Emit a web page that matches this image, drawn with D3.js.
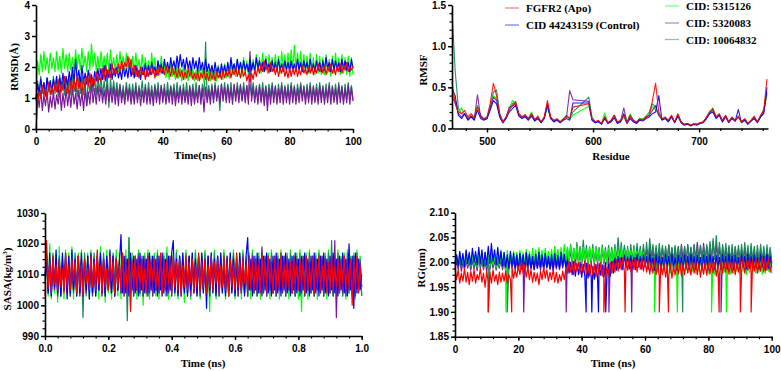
<!DOCTYPE html>
<html><head><meta charset="utf-8">
<script src="https://cdn.jsdelivr.net/npm/d3@7"></script>
<style>body{margin:0;background:#fff}</style>
</head><body><svg id="c" width="781" height="371"></svg>
<script>
// ---------- series ----------
const seriesNames = ["FGFR2 (Apo)","CID 44243159 (Control)","CID: 5315126","CID: 5320083","CID: 10064832"];
const seriesColors = ["#ff0000","#0000ff","#00ff00","#7a1a9a","#168a5a"];

// ---------- RMSD (Å) vs time 0-100 ns, sampled every 0.5 ns ----------
const rmsdApo = [0.0,
0.9,1.2,1.0,1.4,1.1,1.3,0.95,1.5,1.1,1.35,
1.15,1.5,1.2,1.6,1.05,1.45,1.25,1.7,1.2,1.4,
1.1,1.55,1.3,1.6,1.2,1.75,1.3,1.5,1.15,1.6,
1.35,1.7,1.4,1.8,1.3,1.65,1.45,1.85,1.5,1.7,
1.55,1.95,1.6,2.05,1.7,1.9,1.65,2.1,1.75,1.95,
1.8,2.1,1.85,2.2,1.9,2.15,2.0,2.35,1.95,2.25,
1.75,2.05,1.7,1.95,1.65,2.0,1.75,1.9,1.6,1.95,
1.7,1.95,1.75,2.0,1.65,1.9,1.72,2.05,1.8,1.95,
1.75,2.05,1.8,1.95,1.7,2.0,1.75,1.9,1.65,1.95,
1.7,1.9,1.6,1.85,1.65,1.95,1.7,1.85,1.6,1.8,
1.6,1.85,1.55,1.8,1.65,1.9,1.6,1.8,1.55,1.85,
1.6,1.8,1.55,1.85,1.65,1.8,1.6,1.9,1.65,1.85,
1.7,1.95,1.65,1.9,1.75,2.0,1.7,1.9,1.65,1.95,
1.7,1.85,1.55,1.75,1.5,1.8,1.6,1.9,1.7,2.0,
1.8,2.1,1.85,2.2,1.9,2.05,1.8,2.15,1.85,2.0,
1.75,2.0,1.7,1.95,1.8,2.05,1.7,1.9,1.65,1.95,
1.7,1.95,1.75,2.0,1.7,1.9,1.75,2.05,1.8,1.95,
1.75,2.0,1.8,2.05,1.75,1.95,1.8,2.1,1.85,2.0,
1.8,2.05,1.75,2.0,1.85,2.1,1.8,1.95,1.75,2.05,
1.85,2.1,1.8,2.05,1.9,2.15,1.85,2.0,1.9,2.05];
const rmsdControl = [1.0,
1.45,1.15,1.6,1.25,1.5,1.1,1.65,1.3,1.55,1.2,
1.6,1.3,1.7,1.2,1.65,1.35,1.8,1.3,1.7,1.4,
1.85,1.45,2.0,1.5,2.25,1.55,1.9,1.45,2.05,1.5,
1.8,1.45,1.9,1.5,1.75,1.4,1.85,1.55,1.95,1.6,
1.95,1.6,2.05,1.55,1.9,1.65,2.1,1.6,1.95,1.7,
2.0,1.65,1.9,1.6,2.05,1.7,1.95,1.65,2.1,1.7,
1.95,1.65,2.05,1.7,1.9,1.6,2.0,1.75,2.1,1.7,
2.05,1.75,2.15,1.8,2.0,1.75,2.2,1.85,2.1,1.8,
2.25,1.9,2.15,1.85,2.3,1.95,2.2,1.9,2.35,1.95,
2.4,2.0,2.25,1.9,2.3,1.95,2.2,1.85,2.3,1.95,
2.2,1.85,2.3,1.9,2.15,1.8,2.25,1.85,2.1,1.8,
2.05,1.75,2.15,1.8,2.0,1.7,2.1,1.8,2.05,1.75,
2.15,1.8,2.3,1.9,2.1,1.85,2.25,1.9,2.15,1.85,
2.2,1.9,2.1,1.85,2.25,1.9,2.15,1.85,2.3,1.95,
2.2,1.9,2.15,1.85,2.25,1.95,2.1,1.85,2.2,1.9,
2.15,1.85,2.25,1.9,2.1,1.85,2.2,1.9,2.15,1.85,
2.2,1.9,2.1,1.85,2.25,1.9,2.15,1.85,2.2,1.95,
2.15,1.85,2.25,1.9,2.1,1.85,2.2,1.9,2.15,1.85,
2.2,1.9,2.3,1.95,2.15,1.85,2.25,1.9,2.2,1.9,
2.15,1.85,2.25,1.95,2.2,1.9,2.15,1.85,2.25,1.95];
const rmsd5315126 = [1.2,
2.2,1.75,2.4,1.85,2.5,1.9,2.3,1.8,2.45,1.95,
2.3,1.85,2.5,1.9,2.35,1.8,2.6,1.95,2.4,1.85,
2.45,1.9,2.3,1.85,2.55,1.95,2.4,1.9,2.6,2.0,
2.35,1.85,2.5,1.9,2.75,2.0,2.45,1.9,2.35,1.85,
2.5,1.95,2.35,1.9,2.45,1.85,2.55,1.95,2.3,1.9,
2.4,1.85,2.5,1.95,2.35,1.9,2.45,1.95,2.3,1.85,
2.35,1.8,2.45,1.9,2.25,1.8,2.4,1.85,2.3,1.8,
2.2,1.75,2.45,1.85,2.3,1.7,2.2,1.75,2.35,1.8,
2.1,1.65,2.0,1.6,2.15,1.7,1.95,1.6,2.05,1.65,
1.95,1.55,2.05,1.6,1.9,1.55,2.0,1.65,1.95,1.55,
1.9,1.55,2.0,1.6,1.95,1.5,2.05,1.6,1.9,1.55,
2.0,1.6,1.95,1.55,2.05,1.65,1.95,1.6,2.1,1.65,
2.05,1.65,2.2,1.75,2.1,1.7,2.25,1.75,2.15,1.7,
2.3,1.8,2.2,1.75,2.35,1.85,2.25,1.8,2.4,1.85,
2.3,1.8,2.45,1.85,2.35,1.8,2.4,1.9,2.3,1.85,
2.4,1.85,2.35,1.8,2.5,1.9,2.4,1.85,2.45,1.9,
2.55,1.9,2.7,1.95,2.45,1.9,2.5,1.85,2.4,1.8,
2.35,1.8,2.45,1.85,2.3,1.75,2.4,1.8,2.35,1.75,
2.3,1.75,2.4,1.8,2.25,1.7,2.35,1.8,2.45,1.85,
2.3,1.75,2.4,1.8,2.3,1.75,2.35,1.7,2.3,1.75];
const rmsd5320083 = [0.9,
1.15,0.7,1.25,0.6,1.1,0.75,1.2,0.55,1.05,0.7,
1.2,0.65,1.1,0.8,1.25,0.6,1.15,0.7,1.3,0.75,
1.2,0.7,1.35,0.8,1.15,0.65,1.25,0.75,1.2,0.6,
1.3,0.75,1.2,0.8,1.45,0.85,1.3,0.8,1.4,0.9,
1.35,0.85,1.25,0.8,1.4,0.9,1.3,0.85,1.35,0.8,
1.3,0.75,1.4,0.85,1.25,0.8,1.35,0.9,1.3,0.8,
1.25,0.8,1.35,0.85,1.3,0.75,1.25,0.85,1.35,0.8,
1.3,0.8,1.25,0.75,1.35,0.85,1.3,0.8,1.4,0.85,
1.3,0.8,1.25,0.85,1.35,0.8,1.3,0.75,1.25,0.85,
1.35,0.8,1.3,0.85,1.25,0.8,1.35,0.75,1.3,0.8,
1.25,0.85,1.4,0.8,1.3,0.55,1.35,0.85,1.25,0.8,
1.35,0.85,1.4,0.9,1.3,0.85,1.45,0.9,1.35,0.85,
1.4,0.85,1.3,0.8,1.45,0.9,1.35,0.85,1.4,0.9,
1.35,0.85,1.4,0.8,2.5,0.9,1.35,0.85,1.3,0.8,
1.4,0.85,1.3,0.75,1.35,0.6,1.3,0.8,1.4,0.85,
1.35,0.8,1.3,0.85,1.4,0.8,1.35,0.85,1.3,0.8,
1.4,0.85,1.35,0.8,1.3,0.85,1.4,0.9,1.35,0.8,
1.3,0.85,1.4,0.8,1.35,0.85,1.3,0.8,1.4,0.85,
1.35,0.8,1.3,0.85,1.4,0.8,1.35,0.85,1.3,0.8,
1.4,0.85,1.35,0.8,1.3,0.85,1.4,0.8,1.35,0.9];
const rmsd10064832 = [1.0,
1.55,1.1,1.7,1.15,1.5,1.05,1.65,1.2,1.55,1.1,
1.7,1.15,1.6,1.05,1.75,1.2,1.55,1.1,1.65,1.15,
1.6,1.1,1.75,1.2,1.5,1.05,1.65,1.15,1.7,1.1,
1.55,0.75,1.65,1.15,1.75,1.2,1.6,1.1,1.7,1.2,
1.65,1.1,1.55,1.05,1.7,0.7,1.6,1.1,1.55,1.05,
1.5,1.05,1.45,1.0,1.4,0.95,1.5,1.05,1.45,1.0,
1.45,1.0,1.5,0.95,1.4,1.05,1.55,1.0,1.45,0.95,
1.5,1.0,1.4,0.95,1.45,1.05,1.5,0.95,1.4,1.0,
1.45,0.95,1.5,1.0,1.4,1.05,1.45,0.95,1.5,1.0,
1.4,0.95,1.45,1.0,1.5,0.95,1.4,1.05,1.45,0.95,
1.5,1.0,1.4,0.95,1.45,1.05,2.8,0.95,1.4,1.0,
1.45,0.95,1.5,1.0,1.4,0.6,1.45,1.0,1.5,0.95,
1.45,1.0,1.5,0.95,1.4,1.0,1.5,1.05,1.45,0.95,
1.5,1.0,1.4,0.95,1.45,1.05,1.5,1.0,1.4,0.95,
1.45,0.95,1.5,1.0,1.4,0.95,1.45,1.05,1.5,1.0,
1.4,0.95,1.45,1.0,1.5,0.95,1.4,1.0,1.45,0.95,
1.5,1.0,1.4,0.95,1.45,1.05,1.5,1.0,1.4,0.95,
1.45,1.0,1.5,0.95,1.4,1.0,1.45,0.95,1.5,1.0,
1.4,0.95,1.45,1.0,1.5,0.95,1.4,1.0,1.45,0.95,
1.5,1.0,1.4,0.9,1.45,0.95,1.5,1.0,1.4,0.95];

// ---------- RMSF vs residue (467..764 every 3; null = residues missing, joined straight) ----------
const rmsfResidueStart = 467, rmsfResidueStep = 3;
const rmsfApo = [0.57,0.30,0.20,0.18,0.22,0.14,0.18,0.13,0.26,0.16,
0.12,0.14,0.30,0.55,0.40,0.18,0.08,0.14,0.22,0.28,
0.32,0.18,0.14,0.17,0.12,0.18,0.11,0.15,0.08,0.14,
0.34,0.14,0.10,0.12,0.08,0.11,0.16,0.12,0.26,null,
null,null,null,0.30,0.12,0.08,0.10,0.06,0.14,0.07,
0.10,0.16,0.08,0.10,0.16,0.07,0.16,0.10,0.08,0.12,
0.10,0.14,0.16,0.34,0.55,0.20,0.12,0.14,0.10,0.16,
0.08,0.18,0.08,0.05,0.06,0.04,0.06,0.05,0.07,0.08,
0.14,0.20,0.24,0.14,0.18,0.10,0.16,0.08,0.14,0.10,
0.15,0.08,0.12,0.06,0.10,0.15,0.08,0.16,0.22,0.60];
const rmsfControl = [0.47,0.40,0.16,0.12,0.18,0.10,0.14,0.10,0.22,0.12,
0.10,0.12,0.22,0.34,0.30,0.14,0.07,0.12,0.20,0.24,
0.28,0.15,0.12,0.14,0.10,0.15,0.09,0.12,0.07,0.12,
0.28,0.12,0.08,0.10,0.07,0.10,0.12,0.10,0.31,null,
null,null,null,0.31,0.10,0.07,0.08,0.05,0.12,0.06,
0.08,0.13,0.06,0.08,0.18,0.06,0.12,0.08,0.06,0.10,
0.09,0.12,0.14,0.18,0.20,0.40,0.10,0.12,0.08,0.14,
0.07,0.15,0.07,0.04,0.05,0.03,0.05,0.04,0.06,0.07,
0.12,0.18,0.20,0.12,0.16,0.08,0.14,0.07,0.12,0.09,
0.23,0.07,0.10,0.05,0.09,0.12,0.07,0.14,0.18,0.50];
const rmsf5315126 = [0.41,0.35,0.20,0.25,0.16,0.13,0.16,0.12,0.27,0.15,
0.11,0.13,0.28,0.40,0.36,0.16,0.08,0.13,0.24,0.34,
0.30,0.17,0.13,0.16,0.12,0.20,0.10,0.14,0.08,0.13,
0.26,0.13,0.09,0.11,0.08,0.12,0.14,0.11,0.16,null,
null,null,null,0.27,0.13,0.08,0.09,0.06,0.19,0.07,
0.09,0.14,0.07,0.09,0.14,0.07,0.18,0.10,0.07,0.12,
0.12,0.15,0.18,0.27,0.22,0.18,0.11,0.13,0.09,0.15,
0.08,0.17,0.08,0.05,0.06,0.04,0.05,0.05,0.07,0.08,
0.13,0.20,0.25,0.14,0.17,0.09,0.15,0.08,0.13,0.10,
0.14,0.08,0.11,0.06,0.10,0.14,0.08,0.15,0.24,0.40];
const rmsf5320083 = [0.38,0.32,0.18,0.14,0.18,0.11,0.15,0.11,0.41,0.14,
0.11,0.12,0.25,0.38,0.34,0.15,0.07,0.13,0.26,0.27,
0.30,0.16,0.13,0.15,0.11,0.17,0.10,0.13,0.07,0.13,
0.30,0.13,0.09,0.11,0.08,0.11,0.14,0.46,0.35,null,
null,null,null,0.33,0.11,0.07,0.09,0.06,0.13,0.07,
0.09,0.16,0.07,0.09,0.25,0.07,0.14,0.09,0.07,0.11,
0.10,0.13,0.16,0.22,0.28,0.16,0.11,0.13,0.09,0.15,
0.08,0.16,0.08,0.05,0.06,0.04,0.05,0.05,0.07,0.08,
0.13,0.19,0.22,0.13,0.17,0.09,0.15,0.08,0.13,0.09,
0.14,0.08,0.11,0.06,0.09,0.13,0.08,0.14,0.20,0.45];
const rmsf10064832 = [1.42,0.70,0.25,0.18,0.17,0.12,0.16,0.12,0.28,0.15,
0.11,0.13,0.26,0.44,0.47,0.18,0.08,0.14,0.24,0.30,
0.33,0.18,0.14,0.16,0.12,0.18,0.10,0.14,0.08,0.14,
0.30,0.14,0.09,0.11,0.08,0.12,0.15,0.12,0.20,null,
null,null,null,0.38,0.14,0.08,0.09,0.06,0.15,0.07,
0.09,0.15,0.07,0.09,0.15,0.07,0.16,0.10,0.07,0.12,
0.11,0.15,0.20,0.30,0.26,0.16,0.11,0.13,0.09,0.15,
0.08,0.17,0.08,0.05,0.06,0.04,0.05,0.05,0.07,0.08,
0.13,0.21,0.23,0.14,0.17,0.09,0.15,0.08,0.13,0.10,
0.14,0.08,0.11,0.06,0.10,0.14,0.08,0.15,0.22,0.42];

// ---------- SASA vs time 0-1 ns, sampled every 0.005 ns ----------
const sasaApo = [1003,
1021,1006,1014,1004,1016,1007,1013,1005,1015,1006,
1012,1004,1017,1006,1013,1005,1015,1008,1014,1004,
1016,1006,1013,1003,1015,1007,1012,1005,1016,1006,
1014,1005,1018,1007,1013,1004,1015,1006,1012,1005,
1016,1008,1014,1004,1015,1006,1013,1005,1017,1006,
1013,1004,1015,998,1014,1006,1016,1005,1013,1007,
1015,1005,1012,1004,1016,1006,1014,1008,1015,1005,
1013,1006,1017,1004,1014,1005,1015,1007,1013,1004,
1016,1006,1014,1005,1015,1003,1013,1006,1016,1005,
1014,1007,1015,1004,1013,1006,1017,1005,1014,1006,
1015,1004,1013,1006,1016,1005,1014,1007,1015,1004,
1013,1006,1016,1005,1014,1003,1015,1006,1013,1005,
1017,1006,1014,1004,1015,1007,1013,1005,1016,1006,
1014,1005,1015,1006,1013,1004,1016,1006,1014,1005,
1016,1007,1013,1004,1015,1006,1014,1005,1017,1006,
1013,1005,1015,1006,1014,1004,1016,1007,1013,1005,
1015,1006,1014,1004,1016,1005,1013,1006,1015,1004,
1014,1007,1016,1005,1013,1006,1015,1004,1014,1006,
1016,1005,1013,1006,1015,1004,1014,1007,1016,1005,
1013,1006,1015,1000,1014,1005,1016,1004,1013,1006];
const sasaControl = [1010,
1016,1004,1017,1003,1015,1006,1018,1004,1014,1003,
1017,1005,1015,1002,1016,1004,1018,1005,1015,1003,
1016,1004,1017,1003,1015,1005,1016,1002,1017,1004,
1015,1003,1016,1005,1017,1004,1015,1003,1016,1005,
1018,1004,1016,1003,1015,1005,1014,1023,1004,1016,
1004,1015,1003,1017,1005,1016,1004,1015,1003,1017,
1005,1016,1004,1015,1003,1017,1005,1016,1004,1015,
1003,1016,1005,1017,1004,1015,1003,1016,1005,1017,
1021,1004,1015,1003,1016,1005,1017,1004,1015,1003,
1016,1005,1017,1004,1015,1003,1016,1005,1017,1004,
1015,999,1016,1005,1017,1004,1015,1003,1016,1005,
1017,1004,1015,1003,1016,1005,1017,1004,1015,1003,
1016,1005,1017,1004,1015,1003,1016,1022,1005,1015,
1003,1016,1005,1017,1004,1015,1003,1016,1005,1017,
1004,1015,1003,1016,1005,1017,1004,1015,1003,1016,
1005,1017,1004,1015,1003,1016,1005,1017,1004,1015,
1003,1016,1005,1017,1004,1015,1003,1016,1005,1017,
1004,1015,1003,1016,1005,1017,1004,1015,1003,1016,
1005,1017,1004,1015,1003,1016,1005,1017,1004,1015,
1003,1020,1005,1016,999,1017,1004,1015,1005,1010];
const sasa5315126 = [1008,
1018,1003,1020,1002,1016,1004,1017,1001,1019,1003,
1016,1002,1018,1004,1017,1003,1019,1002,1016,1004,
1017,1003,1018,1001,1016,1004,1017,1002,1018,1003,
1016,1004,1017,1002,1019,1003,1016,1001,1018,1004,
1017,1002,1016,1004,1018,1003,1017,1002,1016,1004,
1018,1003,1022,1000,1017,1004,1016,1002,1018,1003,
1016,1000,1017,1003,1018,1002,1016,1004,1017,1003,
1018,1002,1016,1004,1017,1003,1019,1002,1016,1004,
1017,1003,1018,1002,1016,1004,1017,1001,1018,1003,
1016,1002,1017,1004,1018,1003,1016,1002,1017,1004,
1018,1003,1016,998,1017,1004,1018,1002,1016,1003,
1017,1004,1018,1002,1016,1003,1017,1004,1018,1002,
1016,1003,1017,1002,1018,1004,1016,1003,1017,1002,
1018,1004,1016,1003,1017,1002,1018,1004,1016,1003,
1017,1002,1018,1004,1016,1003,1017,1002,1018,1004,
1016,1003,1017,1002,1018,1004,1016,1003,1017,1002,
1018,998,1016,1003,1017,1002,1018,1004,1016,1003,
1017,1002,1018,1004,1016,1003,1017,1002,1018,1004,
1016,1003,1017,1002,1018,1004,1016,1003,1017,1002,
1018,1004,1016,1003,1017,1002,1018,1004,1016,1003];
const sasa5320083 = [1007,
1015,1005,1014,1004,1016,1005,1013,1003,1015,1004,
1014,1005,1016,1004,1013,1003,1015,1005,1014,1004,
1016,1003,1015,1005,1014,1004,1013,1005,1016,1003,
1015,1004,1014,1005,1016,1003,1015,1004,1014,1005,
1013,1004,1016,1003,1015,1005,1014,1004,1016,1003,
1015,1005,1014,1004,1013,1003,1015,1005,1016,1004,
1014,1003,1015,1005,1016,1004,1014,1003,1015,1005,
1016,1004,1014,1003,1015,1005,1013,1004,1016,1003,
1015,1005,1014,1004,1016,1003,1015,1005,1014,1004,
1016,1003,1015,1005,1014,1004,1016,1003,1015,1005,
1014,1004,1016,1003,1015,1005,1014,1004,1016,1003,
1015,1005,1014,1004,1013,1003,1015,1005,1016,1004,
1014,1003,1015,1005,1016,1004,1014,1003,1015,1005,
1016,1004,1014,1003,1015,1005,1019,1004,1016,1003,
1015,1005,1014,1004,1016,1003,1015,1005,1014,1004,
1016,1003,1015,1005,1014,1004,1016,1003,1015,1005,
1014,1004,1016,1003,1015,1005,1014,1004,1016,1003,
1015,1005,1014,1004,1016,1003,1015,1005,1014,1004,
1016,1003,1021,996,1015,1005,1014,1004,1016,1003,
1015,1005,1014,1004,1016,1003,1015,1005,1014,1006];
const sasa10064832 = [1009,
1016,1004,1015,1003,1017,1005,1015,1004,1016,1003,
1015,1005,1017,1004,1016,1003,1015,1004,1017,1003,
1016,1005,1015,996,1017,1003,1016,1005,1015,1004,
1017,1003,1016,1005,1015,1004,1017,1003,1016,1005,
1015,1004,1017,1003,1016,1005,1015,1004,1017,1003,
1016,995,1022,1004,1015,1003,1016,1005,1017,1004,
1015,1003,1016,1005,1017,1004,1015,1003,1016,1005,
1017,1004,1015,1003,1016,1005,1017,1004,1015,1003,
1016,1005,1017,1004,1015,1003,1016,1005,1017,1004,
1015,1003,1016,1005,1017,1004,1015,1003,1016,1005,
1017,1004,1015,1003,1016,1005,1017,1004,1015,1003,
1016,1005,1017,1004,1015,1003,1016,1005,1017,1004,
1015,1003,1016,1005,1017,1004,1015,1003,1016,1005,
1017,1004,1015,1003,1016,1005,1017,1004,1015,1003,
1016,1005,1017,1004,1015,1003,1016,1005,1017,1004,
1015,1003,1016,1005,1017,1004,1015,1003,1016,1005,
1017,1004,1015,1003,1016,1005,1017,1004,1015,1003,
1016,1005,1017,1004,1015,1003,1016,1005,1017,1004,
1021,1003,1016,1005,1017,1004,1015,1003,1016,1005,
1017,1004,1015,1003,1016,1005,1017,1004,1015,1003];

// ---------- RG (nm) vs time 0-100 ns, sampled every 0.5 ns ----------
const rgApo = [1.99,
1.965,1.985,1.958,1.978,1.962,1.988,1.960,1.980,1.955,1.982,
1.962,1.985,1.958,1.975,1.965,1.988,1.960,1.978,1.950,1.982,
1.960,1.980,1.958,1.985,1.962,1.975,1.955,1.980,1.960,1.978,
1.962,1.982,1.958,1.975,1.965,1.990,1.968,1.985,1.970,1.992,
1.975,2.000,1.978,1.995,1.970,1.990,1.965,1.985,1.960,1.980,
1.962,1.978,1.955,1.982,1.965,1.990,1.968,1.985,1.962,1.980,
1.965,1.985,1.960,1.980,1.958,1.975,1.962,1.982,1.965,1.988,
1.978,2.002,1.980,1.998,1.975,2.005,1.982,2.000,1.978,1.996,
1.980,2.003,1.976,1.998,1.972,2.000,1.975,1.995,1.970,1.998,
1.975,2.000,1.972,1.995,1.968,1.992,1.975,2.000,1.978,2.003,
1.980,2.005,1.982,2.008,1.985,2.010,1.980,2.006,1.984,2.008,
1.982,2.005,1.985,2.010,1.980,2.004,1.986,2.008,1.982,2.005,
1.980,2.003,1.976,2.000,1.978,2.005,1.975,1.998,1.972,1.996,
1.975,1.998,1.970,1.995,1.972,1.998,1.968,1.993,1.974,1.998,
1.976,2.000,1.972,1.996,1.975,2.002,1.978,1.998,1.974,2.000,
1.978,2.002,1.975,1.998,1.970,1.995,1.976,2.000,1.974,1.998,
1.976,2.003,1.978,2.000,1.972,1.996,1.975,2.002,1.978,2.000,
1.980,2.005,1.976,2.000,1.978,2.004,1.975,1.998,1.980,2.006,
1.982,2.008,1.978,2.003,1.984,2.010,1.980,2.005,1.982,2.008,
1.978,2.004,1.982,2.010,1.980,2.006,1.984,2.008,1.980,2.000];
const rgControl = [1.995,
2.015,1.992,2.022,1.995,2.018,1.990,2.025,1.998,2.020,1.995,
2.028,2.000,2.022,1.995,2.030,1.998,2.025,1.992,2.020,1.995,
2.032,1.998,2.038,2.002,2.025,1.995,2.030,1.998,2.022,1.992,
2.020,1.990,2.015,1.988,2.022,1.992,2.018,1.988,2.015,1.986,
2.018,1.990,2.015,1.986,2.020,1.992,2.016,1.988,2.012,1.985,
2.016,1.988,2.020,1.990,2.015,1.986,2.018,1.990,2.012,1.988,
2.015,1.986,2.018,1.990,2.014,1.988,2.020,1.992,2.016,1.990,
2.005,1.978,2.000,1.975,2.002,1.972,1.998,1.975,2.000,1.970,
1.996,1.972,1.998,1.968,1.995,1.972,1.992,1.966,1.996,1.970,
1.998,1.974,1.995,1.970,2.000,1.975,1.996,1.972,2.002,1.978,
2.008,1.984,2.012,1.988,2.010,1.985,2.015,1.990,2.012,1.986,
2.014,1.988,2.010,1.985,2.016,1.990,2.012,1.986,2.015,1.990,
2.012,1.986,2.016,1.990,2.010,1.984,2.014,1.988,2.012,1.986,
2.010,1.985,2.015,1.990,2.012,1.986,2.016,1.988,2.010,1.985,
2.014,1.990,2.010,1.985,2.015,1.988,2.012,1.986,2.016,1.990,
2.012,1.986,2.014,1.990,2.010,1.984,2.015,1.988,2.012,1.986,
2.016,1.990,2.012,1.986,2.014,1.988,2.010,1.985,2.015,1.990,
2.012,1.986,2.016,1.990,2.012,1.985,2.014,1.988,2.010,1.986,
2.015,1.990,2.012,1.986,2.016,1.988,2.012,1.985,2.014,1.990,
2.010,1.986,2.015,1.990,2.012,1.984,2.016,1.988,2.012,1.990];
const rg5315126 = [2.00,
2.015,1.992,2.020,1.995,2.012,1.990,2.022,1.996,2.015,1.992,
2.020,1.995,2.016,1.990,2.024,1.998,2.018,1.992,2.020,1.995,
2.018,1.992,2.022,1.996,2.016,1.990,2.020,1.994,2.025,1.998,
2.020,1.995,2.024,1.998,2.018,1.994,2.022,1.996,2.020,1.992,
2.024,1.998,2.020,1.995,2.026,2.000,2.022,1.996,2.028,2.000,
2.025,1.998,2.030,2.002,2.024,1.996,2.028,2.000,2.022,1.996,
2.026,2.000,2.032,2.004,2.026,1.998,2.030,2.002,2.036,2.004,
2.030,2.002,2.034,2.004,2.028,2.000,2.032,2.002,2.026,1.998,
2.030,2.002,2.026,1.998,2.032,2.004,2.028,2.000,2.030,2.002,
2.026,1.998,2.030,2.002,2.024,1.996,2.028,2.000,2.025,1.998,
2.028,2.000,2.025,1.996,2.030,2.002,2.024,1.996,2.026,1.998,
2.024,1.996,2.028,2.000,2.022,1.994,2.025,1.996,2.020,1.992,
2.014,1.986,2.010,1.982,2.012,1.985,2.008,1.980,2.010,1.982,
2.008,1.980,2.012,1.984,2.006,1.978,2.010,1.982,2.008,1.980,
2.010,1.982,2.006,1.978,2.012,1.984,2.008,1.980,2.010,1.982,
2.006,1.978,2.010,1.982,2.008,1.980,2.012,1.984,2.006,1.978,
2.010,1.982,2.008,1.976,2.012,1.984,2.006,1.978,2.010,1.980,
2.008,1.980,2.010,1.976,2.006,1.978,2.012,1.982,2.008,1.976,
2.010,1.982,2.006,1.975,2.008,1.980,2.012,1.984,2.006,1.978,
2.008,1.980,2.010,1.976,2.006,1.978,2.012,1.982,2.008,1.978];
const rg5320083 = [1.99,
2.002,1.985,2.006,1.982,2.000,1.986,2.004,1.988,2.002,1.984,
2.005,1.986,2.002,1.983,2.008,1.988,2.004,1.985,2.002,1.982,
2.006,1.986,2.008,1.988,2.004,1.984,2.002,1.988,2.006,1.985,
2.002,1.982,2.006,1.986,2.008,1.988,2.004,1.985,2.002,1.984,
2.004,1.986,2.008,1.988,2.002,1.983,2.006,1.986,2.004,1.985,
2.006,1.988,2.002,1.984,2.005,1.986,2.008,1.988,2.004,1.985,
2.002,1.983,2.006,1.986,2.004,1.985,2.008,1.988,2.010,1.990,
2.020,1.995,2.025,1.998,2.022,1.995,2.026,1.998,2.020,1.994,
2.024,1.996,2.022,1.995,2.026,2.000,2.022,1.995,2.025,1.998,
2.022,1.995,2.026,1.998,2.020,1.994,2.024,1.996,2.022,1.995,
2.025,1.998,2.028,2.000,2.024,1.996,2.030,2.000,2.026,1.998,
2.028,2.000,2.024,1.996,2.030,2.002,2.026,1.998,2.028,2.000,
2.026,1.998,2.030,2.000,2.024,1.996,2.028,2.000,2.026,1.998,
2.030,2.002,2.028,2.000,2.034,2.004,2.028,1.998,2.030,2.000,
2.032,2.002,2.036,2.004,2.030,2.000,2.034,2.002,2.030,2.000,
2.035,2.004,2.040,2.006,2.034,2.002,2.038,2.004,2.032,2.000,
2.036,2.004,2.042,2.006,2.034,2.000,2.030,1.998,2.032,2.000,
2.028,1.998,2.030,2.000,2.026,1.996,2.030,2.000,2.028,1.998,
2.026,1.996,2.030,2.000,2.024,1.995,2.028,1.998,2.026,1.996,
2.024,1.995,2.028,1.998,2.025,1.996,2.022,1.995,2.026,1.998];
const rg10064832 = [2.00,
2.010,1.990,2.014,1.992,2.008,1.988,2.015,1.991,2.012,1.990,
2.010,1.988,2.015,1.992,2.012,1.990,2.008,1.988,2.014,1.991,
2.012,1.990,2.016,1.992,2.010,1.988,2.014,1.990,2.012,1.989,
2.015,1.992,2.010,1.988,2.014,1.991,2.012,1.990,2.016,1.992,
2.012,1.990,2.015,1.992,2.010,1.988,2.014,1.990,2.012,1.991,
2.016,1.992,2.012,1.990,2.015,1.991,2.010,1.989,2.014,1.992,
2.012,1.990,2.016,1.993,2.014,1.991,2.018,1.994,2.015,1.992,
2.030,2.000,2.036,2.003,2.028,1.998,2.040,2.004,2.032,2.000,
2.045,2.004,2.034,2.000,2.030,1.998,2.036,2.002,2.032,2.000,
2.030,1.998,2.035,2.002,2.030,2.000,2.034,2.003,2.030,1.999,
2.036,2.004,2.050,2.008,2.040,2.004,2.034,2.000,2.032,1.998,
2.036,2.003,2.034,2.000,2.038,2.004,2.032,2.000,2.036,2.002,
2.040,2.004,2.048,2.008,2.036,2.002,2.034,2.000,2.038,2.004,
2.034,2.000,2.032,1.998,2.036,2.002,2.030,1.999,2.034,2.002,
2.030,1.998,2.034,2.002,2.032,2.000,2.036,2.003,2.030,1.999,
2.036,2.002,2.030,1.999,2.034,2.002,2.032,2.000,2.036,2.003,
2.042,2.004,2.048,2.006,2.054,2.008,2.040,2.004,2.036,2.002,
2.038,2.003,2.034,2.000,2.036,2.002,2.032,1.998,2.034,2.001,
2.036,2.002,2.040,2.004,2.034,2.000,2.038,2.003,2.032,1.999,
2.034,2.000,2.036,2.002,2.032,1.999,2.035,2.002,2.030,2.000];
// brief drops of RG to 1.90 nm (time in ns)
const rgDropValue = 1.90;
const rgDropsApo = [10.5,17.9,47.0,53.7,64.5,67.4,83.4,90.1,93.5];
const rgDropsControl = [41.4,43.2,45.3,47.6];
const rgDrops5315126 = [16.1,63.0,70.2,81.0,85.7];
const rgDrops5320083 = [21.7,35.1,48.6,55.8,84.0];
const rgDrops10064832 = [10.5,16.5,71.9];

// ---------- drawing ----------
const svg = d3.select("#c");
const tickFont = "bold 10px 'Liberation Sans', Arial, sans-serif";
const titleFont = "bold 11px 'Liberation Serif', 'Times New Roman', serif";

function timeSeries(vals, tmax){
  const n = vals.length;
  return vals.map((v,i)=>({x: i*tmax/(n-1), y: v}));
}
function withDrops(pts, drops, v){
  return pts.concat(drops.map(t=>({x:t, y:v}))).sort((a,b)=>a.x-b.x);
}

function panel(o){
  const g = svg.append("g");
  const x = d3.scaleLinear().domain(o.xDomain).range(o.xRange);
  const y = d3.scaleLinear().domain(o.yDomain).range(o.yRange);
  const line = d3.line().x(d=>x(d.x)).y(d=>y(d.y));
  o.order.forEach(k=>{
    g.append("path").datum(o.data[k])
      .attr("fill","none").attr("stroke",seriesColors[k])
      .attr("stroke-width",o.lw||1).attr("stroke-opacity",o.op||1)
      .attr("stroke-linejoin","round")
      .attr("d",line);
  });
  g.append("g").attr("transform",`translate(0,${o.yRange[0]})`)
    .call(d3.axisBottom(x).tickValues(o.xMinor).tickSize(2.5).tickFormat("").tickSizeOuter(0))
    .call(s=>{s.select(".domain").remove(); s.selectAll("line").attr("stroke-width",1.2);});
  g.append("g").attr("transform",`translate(${o.xRange[0]},0)`)
    .call(d3.axisLeft(y).tickValues(o.yMinor).tickSize(2.5).tickFormat("").tickSizeOuter(0))
    .call(s=>{s.select(".domain").remove(); s.selectAll("line").attr("stroke-width",1.2);});
  const ax = g.append("g").attr("transform",`translate(0,${o.yRange[0]})`)
    .call(d3.axisBottom(x).tickValues(o.xTicks).tickFormat(o.xFmt).tickSize(4).tickPadding(5).tickSizeOuter(0));
  const ay = g.append("g").attr("transform",`translate(${o.xRange[0]},0)`)
    .call(d3.axisLeft(y).tickValues(o.yTicks).tickFormat(o.yFmt).tickSize(4).tickPadding(2).tickSizeOuter(0));
  [ax,ay].forEach(a=>{
    a.select(".domain").attr("stroke","#000").attr("stroke-width",1.6);
    a.selectAll(".tick line").attr("stroke","#000").attr("stroke-width",1.4);
    a.selectAll("text").style("font",tickFont).attr("fill","#000");
  });
  g.append("text").attr("x",o.xTitlePos[0]).attr("y",o.xTitlePos[1])
    .attr("text-anchor","middle").style("font",titleFont).text(o.xTitle);
  const yt = g.append("text").attr("transform",`translate(${o.yTitlePos[0]},${o.yTitlePos[1]}) rotate(-90)`)
    .attr("text-anchor","middle").style("font",titleFont);
  if(o.yTitleSup){
    yt.append("tspan").text(o.yTitle);
    yt.append("tspan").attr("dy",-4).style("font-size","7px").text(o.yTitleSup);
    yt.append("tspan").attr("dy",4).text(")");
  } else yt.text(o.yTitle);
}

// RMSD
const rmsdAll = [rmsdApo,rmsdControl,rmsd5315126,rmsd5320083,rmsd10064832].map(v=>timeSeries(v,100));
panel({data:rmsdAll, order:[4,2,3,1,0], lw:1.2,
  xDomain:[0,100], xRange:[36,353], yDomain:[0,4], yRange:[129,5],
  xTicks:[0,20,40,60,80,100], xMinor:d3.range(0,101,4), xFmt:d3.format("d"),
  yTicks:[0,1,2,3,4], yMinor:d3.range(0,4.01,0.5), yFmt:d3.format("d"),
  xTitle:"Time(ns)", xTitlePos:[195,159], yTitle:"RMSD(Å)", yTitlePos:[18,67]});

// RMSF
function rmsfSeries(vals){
  return vals.map((v,i)=>({x: rmsfResidueStart + i*rmsfResidueStep, y: v})).filter(d=>d.y!==null);
}
const rmsfAll = [rmsfApo,rmsfControl,rmsf5315126,rmsf5320083,rmsf10064832].map(rmsfSeries);
panel({data:rmsfAll, order:[4,2,3,1,0], lw:1.1, op:0.9,
  xDomain:[467,765], xRange:[452,768], yDomain:[0,1.5], yRange:[128.5,5],
  xTicks:[500,600,700], xMinor:d3.range(480,765,20), xFmt:d3.format("d"),
  yTicks:[0,0.5,1,1.5], yMinor:d3.range(0,1.51,0.1), yFmt:d3.format(".1f"),
  xTitle:"Residue", xTitlePos:[611,160], yTitle:"RMSF", yTitlePos:[427,70]});

// SASA
const sasaAll = [sasaApo,sasaControl,sasa5315126,sasa5320083,sasa10064832].map(v=>timeSeries(v,1));
panel({data:sasaAll, order:[2,4,3,1,0], lw:1.2,
  xDomain:[0,1], xRange:[45,361.7], yDomain:[990,1030], yRange:[336,213],
  xTicks:[0,0.2,0.4,0.6,0.8,1.0], xMinor:d3.range(0,1.001,0.04), xFmt:d3.format(".1f"),
  yTicks:[990,1000,1010,1020,1030], yMinor:d3.range(990,1030.1,2.5), yFmt:d3.format("d"),
  xTitle:"Time (ns)", xTitlePos:[203,367], yTitle:"SASA(kg/m", yTitleSup:"3", yTitlePos:[11,279]});

// RG
const rgVals = [rgApo,rgControl,rg5315126,rg5320083,rg10064832];
const rgDrops = [rgDropsApo,rgDropsControl,rgDrops5315126,rgDrops5320083,rgDrops10064832];
const rgAll = rgVals.map((v,k)=>withDrops(timeSeries(v,100), rgDrops[k], rgDropValue));
panel({data:rgAll, order:[3,4,2,1,0], lw:1.2,
  xDomain:[0,100], xRange:[455,771.7], yDomain:[1.85,2.10], yRange:[336.7,212.7],
  xTicks:[0,20,40,60,80,100], xMinor:d3.range(0,101,4), xFmt:d3.format("d"),
  yTicks:[1.85,1.90,1.95,2.00,2.05,2.10], yMinor:d3.range(1.85,2.101,0.0125), yFmt:d3.format(".2f"),
  xTitle:"Time (ns)", xTitlePos:[613,367], yTitle:"RG(nm)", yTitlePos:[425,268]});

// legend
const legendPos = [[505,8],[505,25],[665,6],[665,23],[665,39.5]];
const lg = svg.append("g");
seriesNames.forEach((name,k)=>{
  const [lx,ly] = legendPos[k];
  lg.append("line").attr("x1",lx).attr("x2",lx+14).attr("y1",ly).attr("y2",ly)
    .attr("stroke",seriesColors[k]).attr("stroke-opacity",0.5).attr("stroke-width",1.3);
  lg.append("text").attr("x",lx+21).attr("y",ly+4).style("font",titleFont).text(name);
});
</script></body></html>
